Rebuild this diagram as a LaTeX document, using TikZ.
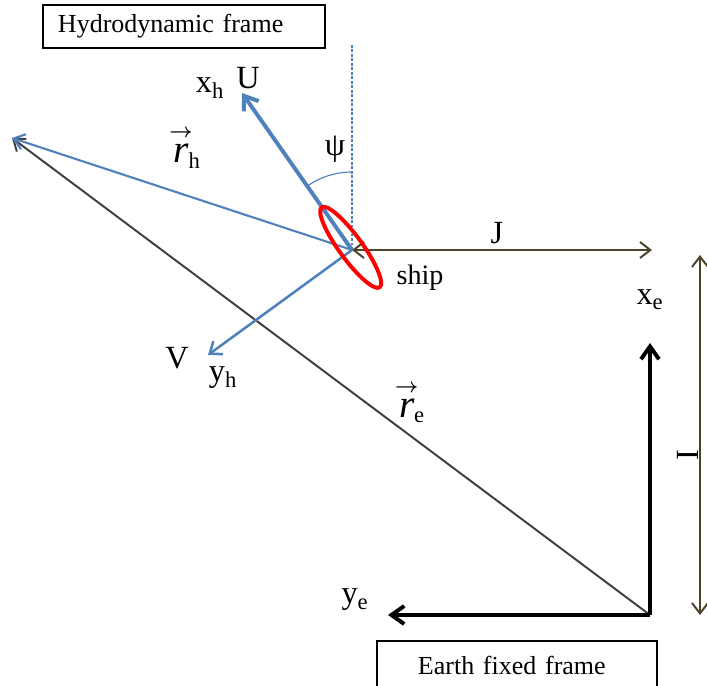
\documentclass[tikz,border=0pt]{standalone}
\usepackage{amsmath}
\usepackage{fontspec}
\setmainfont{Liberation Serif}
\usetikzlibrary{arrows.meta}
\definecolor{hblue}{RGB}{79,129,189}
\definecolor{jolive}{RGB}{74,69,42}
\definecolor{regray}{RGB}{64,64,64}
\newcommand{\vecr}{{\fontsize{28}{30}\selectfont$\overset{\scriptscriptstyle\boldsymbol{\rightarrow}}{\textit{r}}$}\kern-3pt}

\begin{document}
\begin{tikzpicture}[
  lbl/.style={font=\fontsize{23}{26}\selectfont, inner sep=0pt},
  framebox/.style={draw, line width=1.4pt, font=\fontsize{18.5}{22}\selectfont, inner ysep=0pt},
  bigtip/.style={-{Straight Barb[length=3.2mm, width=4.5mm]}},
  smalltip/.style={-{Straight Barb[length=2.6mm, width=4mm]}},
  twotips/.style={{Straight Barb[length=2.6mm, width=4mm]}-{Straight Barb[length=2.6mm, width=4mm]}}
]
\useasboundingbox (0,0) rectangle (17.675,17.125);

\coordinate (ship) at (8.800,10.875);
\coordinate (hull) at (8.767,10.942);
\coordinate (xh) at (6.050,14.800);
\coordinate (yh) at (5.200,8.250);
\coordinate (rtip) at (0.300,13.675);
\coordinate (north) at (8.800,16.000);
\coordinate (jend) at (16.300,10.875);
\coordinate (earth) at (16.250,1.750);
\coordinate (xe) at (16.250,8.550);
\coordinate (ye) at (9.700,1.750);
\coordinate (itop) at (17.500,10.750);
\coordinate (ibot) at (17.500,1.750);

\node[framebox, anchor=north west, minimum width=7.050cm, minimum height=1.075cm,
  text width=6.300cm, inner xsep=0.375cm, align=left] (hframe) at (1.050,17.025) {Hydrodynamic frame};
\node[framebox, anchor=north west, minimum width=7.000cm, minimum height=1.200cm,
  text width=4.950cm, inner xsep=1.025cm, align=left] (eframe) at (9.400,1.125) {Earth fixed frame};

\draw[hblue, line width=1pt, dash pattern=on 2pt off 1.2pt] (ship) -- (north);
\draw[regray, line width=1.4pt, smalltip] (earth) -- (rtip);
\draw[hblue, line width=1.5pt, smalltip] (ship) -- (rtip);
\draw[jolive, line width=1.4pt, twotips] (ship) -- (jend);
\draw[hblue, line width=1.8pt, smalltip] (ship) -- (yh);
\draw[hblue, line width=2.8pt, bigtip] (ship) -- (xh);
\draw[hblue, line width=0.8pt] (ship) ++(90:1.950) arc[start angle=90, end angle=126, radius=1.950];
\draw[red, line width=2.8pt, rotate around={126:(hull)}] (hull) ellipse [x radius=1.235, y radius=0.290];
\draw[black, line width=2.8pt, bigtip] (earth) -- (xe);
\draw[black, line width=2.8pt, bigtip] (earth) -- (ye);
\draw[jolive, line width=1.4pt, twotips] (ibot) -- (itop);

\node[lbl] (xhlabel) at (5.250,14.925) {x\textsubscript{h}};
\node[lbl] (ulabel) at (6.200,15.175) {U};
\node[lbl] (psilabel) at (8.375,13.400) {ψ};
\node[lbl] (rhlabel) at (4.625,13.450) {\vecr\textsubscript{h}};
\node[lbl] (jlabel) at (12.425,11.300) {J};
\node[lbl, font=\fontsize{20}{24}\selectfont] (shiplabel) at (10.500,10.175) {ship};
\node[lbl] (xelabel) at (16.250,9.625) {x\textsubscript{e}};
\node[lbl] (vlabel) at (4.425,8.175) {V};
\node[lbl] (yhlabel) at (5.575,7.675) {y\textsubscript{h}};
\node[lbl] (relabel) at (10.250,7.075) {\vecr\textsubscript{e}};
\node[lbl, rotate=90] (ilabel) at (17.200,5.750) {I};
\node[lbl] (yelabel) at (8.875,2.125) {y\textsubscript{e}};
\end{tikzpicture}
\end{document}
